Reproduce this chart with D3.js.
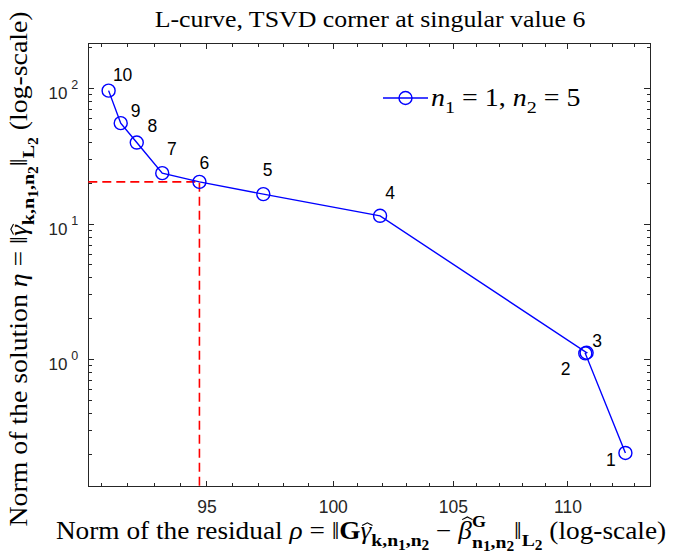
<!DOCTYPE html>
<html>
<head>
<meta charset="utf-8">
<script src="https://cdn.jsdelivr.net/npm/d3@7"></script>
<style>
  body { margin: 0; background: #fff; }
  svg { display: block; }
</style>
</head>
<body>
<svg id="chart" width="683" height="554"></svg>
<script>
// TSVD truncation level k for each point of the L-curve
const levels = [1, 2, 3, 4, 5, 6, 7, 8, 9, 10];
// residual norm rho = ||G gamma_k - beta^G||
const residualNorm = [112.62, 110.80, 110.86, 101.94, 97.22, 94.73, 93.31, 92.35, 91.75, 91.30];
// solution norm eta = ||gamma_k||
const solutionNorm = [0.2024, 1.100, 1.112, 11.42, 16.5, 20.35, 23.6, 39.7, 55.2, 96.0];
// selected corner of the L-curve
const cornerLevel = 6;

// axis ticks
const xMajorTicks = [95, 100, 105, 110];
const xMinorTicks = [91, 92, 93, 94, 96, 97, 98, 99, 101, 102, 103, 104, 106, 107, 108, 109, 111, 112, 113];
const yMajorTicks = [1, 10, 100];
const yMinorTicks = [0.2, 0.3, 0.4, 0.5, 0.6, 0.7, 0.8, 0.9, 2, 3, 4, 5, 6, 7, 8, 9, 20, 30, 40, 50, 60, 70, 80, 90, 200];

const plot = { left: 88.3, right: 650, top: 43.3, bottom: 486.7 };
const AX = '#262626';
const SERIF = '"Liberation Serif", "Times New Roman", serif';
const SANS = '"Liberation Sans", Arial, Helvetica, sans-serif';
const LABEL_SIZE = 24.5;

const svg = d3.select('#chart');

const x = d3.scaleLog().domain([90.55, 113.75]).range([plot.left, plot.right]);
const y = d3.scaleLog().domain([0.114, 214.7]).range([plot.bottom, plot.top]);

// ---- rich text helper: sub/superscripts, italics, bold, hat accents ----
// lvl: 0 base, 1 subscript, 2 sub-subscript, -1 superscript,
//      3 / 4 lowered subscript and sub-subscript under a superscript
function rich(group, segs, size) {
  const shift = { '0': 0, '1': 0.3, '2': 0.46, '-1': -0.48, '3': 0.35, '4': 0.5 };
  const scale = { '0': 1, '1': 0.72, '2': 0.56, '-1': 0.66, '3': 0.72, '4': 0.56 };
  const textSel = group.append('text').attr('font-family', SERIF).attr('fill', '#000');
  let cur = 0, prev = null, charIndex = 0;
  const hats = [];
  segs.forEach(s => {
    const lvl = s.lvl || 0;
    const fs = size * scale[lvl];
    const ts = textSel.append('tspan')
      .text(s.t)
      .attr('font-size', fs)
      .attr('dy', ((shift[lvl] - shift[cur]) * size).toFixed(2));
    if (s.under && prev) ts.attr('dx', (-prev.node().getComputedTextLength()).toFixed(2));
    if (s.it) ts.attr('font-style', 'italic');
    if (s.b) ts.attr('font-weight', 'bold');
    if (s.hat) hats.push({ index: charIndex, top: s.hatTop, skew: s.hatSkew || 0, fs });
    charIndex += [...s.t].length;
    cur = lvl;
    prev = ts;
  });
  if (group.attr('data-anchor') === 'middle') textSel.attr('text-anchor', 'middle');
  // draw each circumflex as a small stroke above its glyph (glyphs at base level)
  hats.forEach(h => {
    const box = textSel.node().getExtentOfChar(h.index);
    const cxh = box.x + box.width / 2 + h.skew * h.fs;
    const w = 0.19 * h.fs, top = -h.top * h.fs, ht = 0.11 * h.fs;
    group.append('path')
      .attr('d', `M${cxh - w},${top + ht}L${cxh},${top}L${cxh + w},${top + ht}`)
      .attr('fill', 'none').attr('stroke', '#000').attr('stroke-width', 1.1);
  });
}

// ---- axes box ----
svg.append('rect')
  .attr('x', plot.left).attr('y', plot.top)
  .attr('width', plot.right - plot.left).attr('height', plot.bottom - plot.top)
  .attr('fill', 'none').attr('stroke', AX).attr('stroke-width', 1)
  .attr('shape-rendering', 'crispEdges');

function styleAxis(g) {
  g.select('.domain').remove();
  g.selectAll('line').attr('stroke', AX).attr('shape-rendering', 'crispEdges');
  g.selectAll('text').attr('fill', AX).attr('font-family', SANS).attr('font-size', 17.5);
}

const MAJ = 6, MIN = 3.5;

// bottom axis with labels
svg.append('g').attr('transform', `translate(0,${plot.bottom})`)
  .call(d3.axisBottom(x).tickValues(xMajorTicks).tickSizeInner(-MAJ).tickSizeOuter(0)
    .tickPadding(13.5).tickFormat(d3.format('d')))
  .call(styleAxis);
svg.append('g').attr('transform', `translate(0,${plot.bottom})`)
  .call(d3.axisBottom(x).tickValues(xMinorTicks).tickSizeInner(-MIN).tickSizeOuter(0).tickFormat(''))
  .call(styleAxis);
// top axis ticks
svg.append('g').attr('transform', `translate(0,${plot.top})`)
  .call(d3.axisTop(x).tickValues(xMajorTicks).tickSizeInner(-MAJ).tickSizeOuter(0).tickFormat(''))
  .call(styleAxis);
svg.append('g').attr('transform', `translate(0,${plot.top})`)
  .call(d3.axisTop(x).tickValues(xMinorTicks).tickSizeInner(-MIN).tickSizeOuter(0).tickFormat(''))
  .call(styleAxis);

// left axis with 10^n labels
const yLeft = svg.append('g').attr('transform', `translate(${plot.left},0)`)
  .call(d3.axisLeft(y).tickValues(yMajorTicks).tickSizeInner(-MAJ).tickSizeOuter(0)
    .tickPadding(10).tickFormat(() => ''))
  .call(styleAxis);
yLeft.selectAll('.tick text').each(function(d) {
  const t = d3.select(this).attr('dy', '0.62em').attr('font-size', 17);
  t.append('tspan').text('10');
  t.append('tspan').text(Math.round(Math.log10(d)))
    .attr('font-size', 12.5).attr('dx', 4).attr('dy', -10);
});
svg.append('g').attr('transform', `translate(${plot.left},0)`)
  .call(d3.axisLeft(y).tickValues(yMinorTicks).tickSizeInner(-MIN).tickSizeOuter(0).tickFormat(''))
  .call(styleAxis);
// right axis ticks
svg.append('g').attr('transform', `translate(${plot.right},0)`)
  .call(d3.axisRight(y).tickValues(yMajorTicks).tickSizeInner(-MAJ).tickSizeOuter(0).tickFormat(''))
  .call(styleAxis);
svg.append('g').attr('transform', `translate(${plot.right},0)`)
  .call(d3.axisRight(y).tickValues(yMinorTicks).tickSizeInner(-MIN).tickSizeOuter(0).tickFormat(''))
  .call(styleAxis);

// ---- corner guide lines ----
const ci = levels.indexOf(cornerLevel);
const cx = x(residualNorm[ci]), cy = y(solutionNorm[ci]);
svg.append('path')
  .attr('d', `M${plot.left},${cy}H${cx}V${plot.bottom}`)
  .attr('fill', 'none').attr('stroke', '#ff0000').attr('stroke-width', 1.6)
  .attr('stroke-dasharray', '9,5');

// ---- L-curve ----
const pts = levels.map((k, i) => ({ k, rho: residualNorm[i], eta: solutionNorm[i] }));
const line = d3.line().x(d => x(d.rho)).y(d => y(d.eta));
svg.append('path').datum(pts)
  .attr('d', line).attr('fill', 'none').attr('stroke', '#0000ff').attr('stroke-width', 1.4);
svg.append('g').selectAll('circle').data(pts).join('circle')
  .attr('cx', d => x(d.rho)).attr('cy', d => y(d.eta)).attr('r', 6.5)
  .attr('fill', 'none').attr('stroke', '#0000ff').attr('stroke-width', 1.4);

// point labels, offset from each marker
const labelOffset = {
  1: [-14.6, 7.4], 2: [-19.7, 16], 3: [10.6, -12], 4: [10, -23], 5: [4.4, -24],
  6: [5, -19], 7: [9.7, -24], 8: [15.6, -17], 9: [15, -12.6], 10: [14, -16]
};
svg.append('g').selectAll('text').data(pts).join('text')
  .attr('x', d => x(d.rho) + labelOffset[d.k][0])
  .attr('y', d => y(d.eta) + labelOffset[d.k][1])
  .attr('text-anchor', 'middle').attr('dominant-baseline', 'central')
  .attr('font-family', SANS).attr('font-size', 17.5).attr('fill', '#000')
  .text(d => d.k);

// ---- legend ----
const lg = svg.append('g').attr('transform', 'translate(383,98)');
lg.append('line').attr('x1', 0).attr('x2', 45).attr('y1', 0).attr('y2', 0)
  .attr('stroke', '#0000ff').attr('stroke-width', 1.4);
lg.append('circle').attr('cx', 22.5).attr('cy', 0).attr('r', 6.5)
  .attr('fill', 'none').attr('stroke', '#0000ff').attr('stroke-width', 1.4);
rich(lg.append('g').attr('transform', 'translate(48,8) scale(1.14,1)'), [
  { t: 'n', it: true }, { t: '1', lvl: 1 }, { t: ' = 1, ' },
  { t: 'n', it: true }, { t: '2', lvl: 1 }, { t: ' = 5' }
], LABEL_SIZE);

// ---- title ----
svg.append('text')
  .attr('transform', 'translate(370,27) scale(1.1,1)')
  .attr('text-anchor', 'middle').attr('font-family', SERIF).attr('font-size', 23.5)
  .attr('fill', '#000')
  .text('L-curve, TSVD corner at singular value 6');

// ---- x label ----
rich(svg.append('g').attr('data-anchor', 'middle')
  .attr('transform', 'translate(361,539) scale(1.115,1)'), [
  { t: 'Norm of the residual ' }, { t: 'ρ', it: true }, { t: ' = ‖' },
  { t: 'G', b: true }, { t: 'γ', it: true, hat: true, hatTop: 0.66, hatSkew: 0.05 },
  { t: 'k,n', lvl: 1, b: true }, { t: '1', lvl: 2, b: true },
  { t: ',n', lvl: 1, b: true }, { t: '2', lvl: 2, b: true },
  { t: ' − ' }, { t: 'β', it: true, hat: true, hatTop: 0.9, hatSkew: 0.08 },
  { t: 'G', lvl: -1, b: true },
  { t: 'n', lvl: 3, b: true, under: true }, { t: '1', lvl: 4, b: true },
  { t: ',n', lvl: 3, b: true }, { t: '2', lvl: 4, b: true },
  { t: '‖' }, { t: 'L', lvl: 1, b: true }, { t: '2', lvl: 2, b: true },
  { t: ' (log-scale)' }
], LABEL_SIZE);

// ---- y label ----
rich(svg.append('g').attr('data-anchor', 'middle')
  .attr('transform', 'translate(27,269) rotate(-90) scale(1.135,1)'), [
  { t: 'Norm of the solution ' }, { t: 'η', it: true }, { t: ' = ‖' },
  { t: 'γ', it: true, hat: true, hatTop: 0.66, hatSkew: 0.05 },
  { t: 'k,n', lvl: 1, b: true }, { t: '1', lvl: 2, b: true },
  { t: ',n', lvl: 1, b: true }, { t: '2', lvl: 2, b: true },
  { t: '‖' }, { t: 'L', lvl: 1, b: true }, { t: '2', lvl: 2, b: true },
  { t: ' (log-scale)' }
], LABEL_SIZE);
</script>
</body>
</html>
